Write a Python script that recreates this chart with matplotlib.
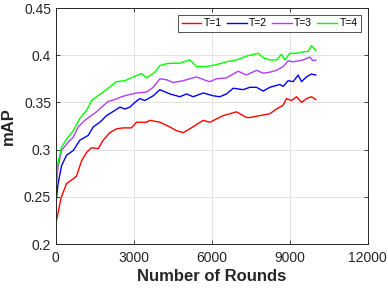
import matplotlib
matplotlib.use('Agg')
import matplotlib.pyplot as plt

plt.rcParams['font.family'] = ['Liberation Sans', 'DejaVu Sans']

# T=1
rounds_t1 = [0, 100, 200, 410, 667, 795, 987, 1180, 1372, 1628, 1820, 2077, 2333, 2590,
             2900, 3103, 3490, 3615, 4000, 4385, 4640, 4897, 5154, 5667, 5923, 6436,
             6950, 7333, 7462, 7846, 8231, 8487, 8744, 8872, 9064, 9256, 9449, 9641,
             9833, 10000]
map_t1 = [0.222, 0.235, 0.249, 0.264, 0.269, 0.272, 0.288, 0.297, 0.302, 0.301, 0.310,
          0.318, 0.322, 0.323, 0.323, 0.329, 0.329, 0.331, 0.329, 0.324, 0.320, 0.318,
          0.322, 0.331, 0.329, 0.336, 0.340, 0.334, 0.334, 0.336, 0.338, 0.343, 0.347,
          0.354, 0.352, 0.356, 0.350, 0.354, 0.356, 0.353]

# T=2
rounds_t2 = [0, 80, 218, 410, 667, 923, 1243, 1436, 1692, 1949, 2270, 2462, 2654, 2846,
             3038, 3231, 3423, 3744, 4000, 4385, 4769, 5026, 5282, 5667, 6051, 6308,
             6564, 6821, 7205, 7462, 7718, 7974, 8231, 8615, 8744, 8936, 9128, 9321,
             9449, 9641, 9833, 10000]
map_t2 = [0.242, 0.263, 0.283, 0.294, 0.299, 0.310, 0.315, 0.324, 0.329, 0.336, 0.3415,
          0.345, 0.343, 0.345, 0.350, 0.354, 0.352, 0.357, 0.3635, 0.359, 0.356, 0.359,
          0.356, 0.360, 0.357, 0.356, 0.359, 0.365, 0.3635, 0.366, 0.366, 0.362, 0.366,
          0.369, 0.367, 0.373, 0.372, 0.379, 0.372, 0.377, 0.380, 0.379]

# T=3
rounds_t3 = [0, 80, 218, 475, 667, 859, 1115, 1308, 1564, 1756, 2013, 2270, 2526, 2782,
             3103, 3487, 3744, 4000, 4256, 4513, 4897, 5410, 5795, 5923, 6180, 6564,
             7013, 7333, 7718, 7974, 8231, 8487, 8744, 8936, 9128, 9513, 9769, 9897,
             10000]
map_t3 = [0.256, 0.281, 0.299, 0.308, 0.313, 0.324, 0.331, 0.335, 0.340, 0.345, 0.351,
          0.353, 0.356, 0.358, 0.360, 0.361, 0.366, 0.375, 0.374, 0.371, 0.373, 0.377,
          0.373, 0.372, 0.375, 0.376, 0.383, 0.379, 0.384, 0.381, 0.382, 0.384, 0.388,
          0.394, 0.393, 0.395, 0.398, 0.394, 0.395]

# T=4
rounds_t4 = [0, 80, 218, 410, 667, 923, 1180, 1372, 1564, 1820, 2013, 2333, 2654, 2974,
             3295, 3487, 3808, 4000, 4256, 4513, 4769, 5026, 5154, 5410, 5795, 6180,
             6564, 6949, 7333, 7782, 7974, 8231, 8487, 8679, 8808, 9000, 9256, 9513,
             9705, 9833, 10000]
map_t4 = [0.258, 0.286, 0.3025, 0.311, 0.320, 0.333, 0.3415, 0.352, 0.356, 0.361, 0.365,
          0.372, 0.373, 0.377, 0.3805, 0.376, 0.382, 0.389, 0.391, 0.3915, 0.3915, 0.394,
          0.395, 0.388, 0.388, 0.390, 0.393, 0.395, 0.399, 0.402, 0.3975, 0.395, 0.395,
          0.401, 0.395, 0.402, 0.402, 0.4035, 0.404, 0.410, 0.405]

x_ticks = [0, 3000, 6000, 9000, 12000]
y_ticks = [0.2, 0.25, 0.3, 0.35, 0.4, 0.45]
y_ticklabels = ['0.2', '0.25', '0.3', '0.35', '0.4', '0.45']

fig = plt.figure(figsize=(3.88, 2.91), dpi=100)
ax = fig.add_axes([0.144, 0.1615, 0.804, 0.811])

ax.plot(rounds_t1, map_t1, color='#ff0000', lw=1, label='T=1')
ax.plot(rounds_t2, map_t2, color='#0000ff', lw=1, label='T=2')
ax.plot(rounds_t3, map_t3, color='#b23dff', lw=1, label='T=3')
ax.plot(rounds_t4, map_t4, color='#00ff00', lw=1, label='T=4')

ax.set_xlim(0, 12000)
ax.set_ylim(0.2, 0.45)
ax.set_xticks(x_ticks)
ax.set_yticks(y_ticks)
ax.set_yticklabels(y_ticklabels)
ax.grid(True, color='#e3e3e3', lw=0.7)
ax.set_axisbelow(True)
ax.tick_params(direction='in', top=True, right=True, length=3, width=0.6,
               colors='#262626', labelsize=10)
ax.tick_params(axis='x', pad=5)
for s in ax.spines.values():
    s.set_color('#262626')
    s.set_linewidth(0.7)

ax.set_xlabel('Number of Rounds', fontsize=12, fontweight='bold', color='#262626', labelpad=3)
ax.set_ylabel('mAP', fontsize=12, fontweight='bold', color='#262626', labelpad=6)

leg = ax.legend(loc='upper right', ncol=4, fontsize=7.5, frameon=True, fancybox=False,
                handlelength=1.9, handletextpad=0.25, columnspacing=0.45,
                borderpad=0.35, borderaxespad=0.65)
leg.get_frame().set_edgecolor('#262626')
leg.get_frame().set_linewidth(0.7)

fig.savefig('out.png', dpi=100)
